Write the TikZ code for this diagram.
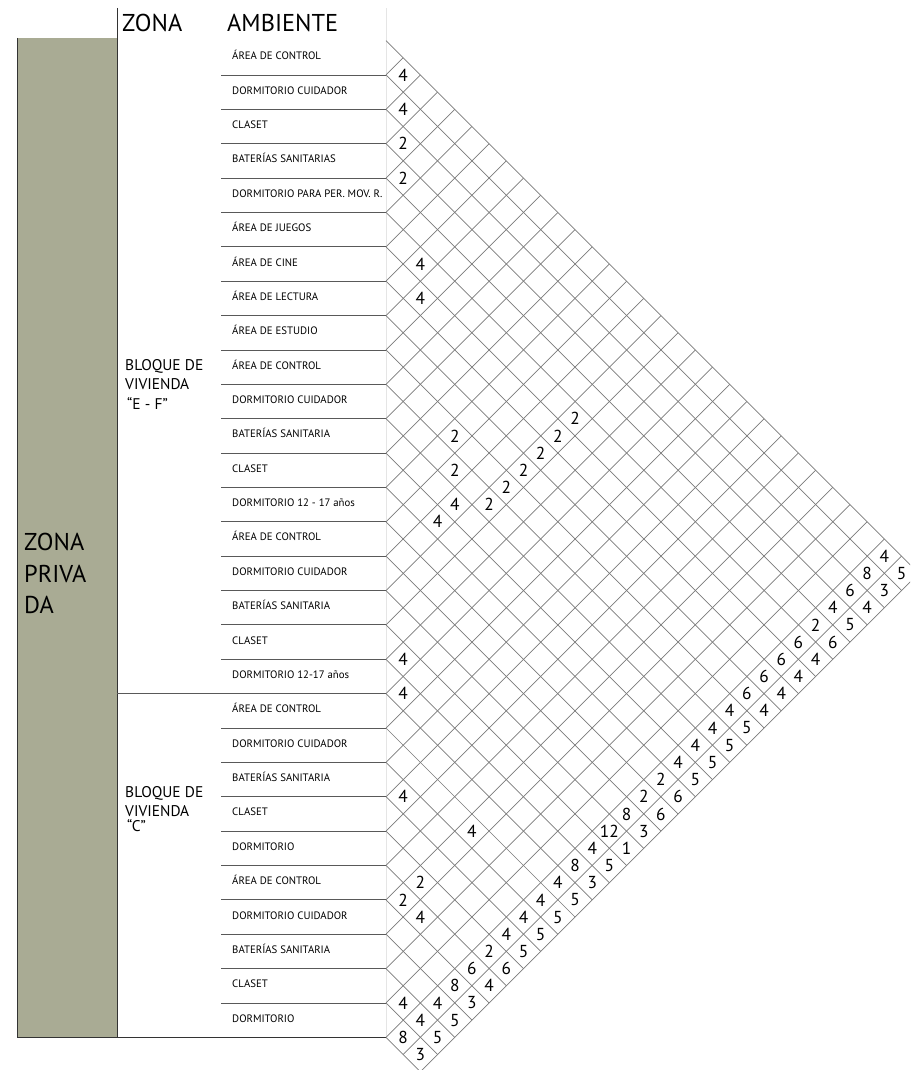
\documentclass[tikz,border=0pt]{standalone}
\usepackage{fontspec}
\setmainfont{PT Sans}
\usepackage{tikz}
\usetikzlibrary{positioning}
\usepackage{xcolor}
\definecolor{zonaolive}{RGB}{169,171,148}

\newcommand{\gx}{386}
\newcommand{\gy}{40.6}
\newcommand{\cellh}{34.37}
\newcommand{\celld}{17.185}

\tikzset{
  gridline/.style={black!52, line width=0.6pt},
  rowline/.style={black!65, line width=0.7pt},
  frameline/.style={black!80, line width=0.8pt},
  rowlabel/.style={anchor=base west, inner sep=0pt, font=\fontsize{9.2}{10}\selectfont},
  num/.style={inner sep=0pt, font=\fontsize{14.8}{15}\selectfont},
  headlabel/.style={anchor=base west, inner sep=0pt, font=\fontsize{20.8}{22}\selectfont},
  zonelabel/.style={anchor=base west, inner sep=0pt, font=\fontsize{13.2}{14}\selectfont},
}

\begin{document}
\begin{tikzpicture}[x=0.3mm, y=-0.3mm]
  \useasboundingbox (0,0) rectangle (910,1070);
  \clip (0,0) rectangle (910,1070);

  %% Zone bar and frame
  \fill[zonaolive] (17,38) rectangle (117,1037.3);
  \draw[frameline] (17,38) -- (17,1037.3) -- (\gx,1037.3);
  \draw[frameline] (117,8) -- (117,1037.3);
  \draw[black!10, line width=0.6pt] (\gx,8) -- (\gx,1037.3);

  %% Headers
  \node[headlabel] (zona) at (122,32) {ZONA};
  \node[headlabel] (ambiente) at (227,32) {AMBIENTE};
  \node[headlabel] (zp1) at (24,550) {ZONA};
  \node[headlabel] (zp2) at (24,582) {PRIVA};
  \node[headlabel] (zp3) at (24,613) {DA};
  \node[zonelabel] (ef1) at (125,370) {BLOQUE DE};
  \node[zonelabel] (ef2) at (125,389.5) {VIVIENDA};
  \node[zonelabel] (ef3) at (127,409) {“E - F”};
  \node[zonelabel] (bc1) at (125,797) {BLOQUE DE};
  \node[zonelabel] (bc2) at (125,816) {VIVIENDA};
  \node[zonelabel] (bc3) at (127,831) {“C”};

  %% Rows
  \foreach \k in {1,...,28}
    \draw[rowline] (221,{\gy+\k*\cellh}) -- (\gx,{\gy+\k*\cellh});
  \draw[rowline] (117,{\gy+19*\cellh}) -- (221,{\gy+19*\cellh});
  \foreach \lab [count=\k] in {ÁREA DE CONTROL, DORMITORIO CUIDADOR, CLASET,
      BATERÍAS SANITARIAS, DORMITORIO PARA PER. MOV. R., ÁREA DE JUEGOS,
      ÁREA DE CINE, ÁREA DE LECTURA, ÁREA DE ESTUDIO, ÁREA DE CONTROL,
      DORMITORIO CUIDADOR, BATERÍAS SANITARIA, CLASET, DORMITORIO 12 - 17 años,
      ÁREA DE CONTROL, DORMITORIO CUIDADOR, BATERÍAS SANITARIA, CLASET,
      DORMITORIO 12-17 años, ÁREA DE CONTROL, DORMITORIO CUIDADOR,
      BATERÍAS SANITARIA, CLASET, DORMITORIO, ÁREA DE CONTROL,
      DORMITORIO CUIDADOR, BATERÍAS SANITARIA, CLASET, DORMITORIO}
    \node[rowlabel] (amb\k) at (232,{\gy+(\k-0.5)*\cellh+2}) {\lab};

  %% Diamond grid
  \foreach \c in {0,2,...,58}
    \draw[gridline] (\gx,{\gy+\c*\celld})
      -- ({\gx+(62-\c)/2*\celld},{\gy+(62+\c)/2*\celld});
  \foreach \s in {2,4,...,58}
    \draw[gridline] (\gx,{\gy+\s*\celld})
      -- ({\gx+\s/2*\celld},{\gy+\s/2*\celld});
  \foreach \s in {60,62}
    \draw[gridline] ({\gx+(\s-58)/2*\celld},{\gy+(\s+58)/2*\celld})
      -- ({\gx+\s/2*\celld},{\gy+\s/2*\celld});

  %% Values
  \foreach \m/\n/\v in {1/2/4, 1/4/4, 1/6/2, 1/8/2, 2/13/4, 2/15/4,
      4/23/2, 4/25/2, 4/27/4, 3/28/4, 6/27/2, 7/26/2, 8/25/2, 9/24/2,
      10/23/2, 11/22/2, 1/36/4, 1/38/4, 1/44/4, 5/46/4, 2/49/2, 1/50/2,
      2/51/4, 1/56/4,
      29/30/4, 28/31/8, 27/32/6, 26/33/4, 25/34/2, 24/35/6, 23/36/6,
      22/37/6, 21/38/6, 20/39/4, 19/40/4, 18/41/4, 17/42/4, 16/43/2,
      15/44/2, 14/45/8, 13/46/12, 12/47/4, 11/48/8, 10/49/4, 9/50/4,
      8/51/4, 7/52/4, 6/53/2, 5/54/6, 4/55/8, 3/56/4, 2/57/4, 1/58/8,
      30/31/5, 29/32/3, 28/33/4, 27/34/5, 26/35/6, 25/36/4, 24/37/4,
      23/38/4, 22/39/4, 21/40/5, 20/41/5, 19/42/5, 18/43/5, 17/44/6,
      16/45/6, 15/46/3, 14/47/1, 13/48/5, 12/49/3, 11/50/5, 10/51/5,
      9/52/5, 8/53/5, 7/54/6, 6/55/4, 5/56/3, 4/57/5, 3/58/5, 2/59/3}
    \node[num] (c\m-\n) at ({\gx+\m*\celld},{\gy+\n*\celld}) {\v};
\end{tikzpicture}
\end{document}
